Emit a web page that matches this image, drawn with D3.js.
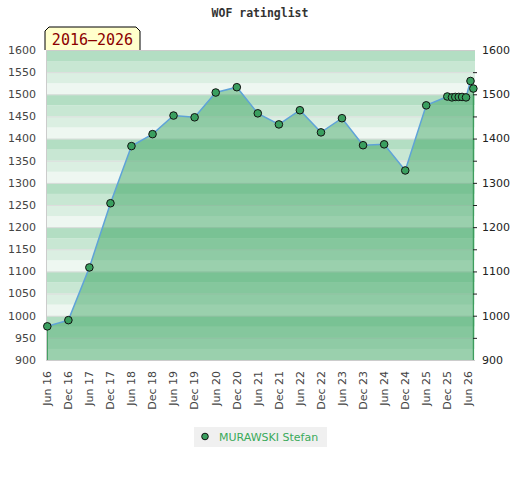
<!DOCTYPE html>
<html lang="en">
<head>
    <meta charset="UTF-8">
    <script src="https://d3js.org/d3.v7.min.js"></script>
    <title>WOF ratinglist</title>
    <style>
        html, body {
            margin: 0px;
            padding: 0px;
            background-color: #ffffff;
        }
        svg {
            font-family: "DejaVu Sans", sans-serif;
        }
        .mono {
            font-family: "DejaVu Sans Mono", monospace;
        }
    </style>
</head>
<body>
    <div id="chart"></div>

    <script>
        // rating list dates and values
        let dates = [
            '2016-06-01', '2016-12-01', '2017-06-01', '2017-12-01', '2018-06-01', '2018-12-01',
            '2019-06-01', '2019-12-01', '2020-06-01', '2020-12-01', '2021-06-01', '2021-12-01',
            '2022-06-01', '2022-12-01', '2023-06-01', '2023-12-01', '2024-06-01', '2024-12-01',
            '2025-06-01', '2025-12-01', '2026-01-10', '2026-02-08', '2026-03-10', '2026-04-08',
            '2026-05-12', '2026-06-20', '2026-07-15'
        ];
        let ratings = [
            976, 990, 1109, 1254, 1383, 1410,
            1452, 1448, 1504, 1516, 1457, 1432,
            1464, 1414, 1446, 1385, 1387, 1328,
            1475, 1495, 1493, 1494, 1494, 1494,
            1493, 1530, 1513
        ];
        let leftTicks = d3.range(900, 1601, 50);
        let rightTicks = d3.range(900, 1601, 100);
        let player = 'MURAWSKI Stefan';
        let period = '2016–2026';

        let width = 520, height = 480;
        let plot = { left: 46, right: 475, top: 50, bottom: 360 };

        let svg = d3.select('#chart').append('svg').attr('width', width).attr('height', height);

        let parse = d3.timeParse('%Y-%m-%d');
        let data = dates.map((d, i) => ({ date: parse(d), value: ratings[i] }));

        let x = d3.scaleTime()
            .domain([new Date(2016, 5, 1), new Date(2026, 5, 1)])
            .range([47.3, 468.3]);
        let y = d3.scaleLinear().domain([900, 1600]).range([plot.bottom, plot.top]);

        // striped background, 4 shades per hundred
        let shades = ['#b3dec3', '#c8e7d3', '#dbefe2', '#eef7f1'];
        let bands = d3.range(900, 1600, 25);
        svg.append('g').selectAll('rect')
            .data(bands)
            .join('rect')
            .attr('x', plot.left)
            .attr('width', plot.right - plot.left)
            .attr('y', (v) => y(v + 25))
            .attr('height', (v) => y(v) - y(v + 25))
            .attr('fill', (v) => shades[((1600 - (v + 25)) / 25) % 4]);

        svg.append('g').selectAll('line')
            .data(leftTicks)
            .join('line')
            .attr('x1', plot.left).attr('x2', plot.right)
            .attr('y1', (v) => y(v) + 0.5).attr('y2', (v) => y(v) + 0.5)
            .attr('stroke', '#dddddd');

        // area under the rating line
        let area = d3.area()
            .x((d) => x(d.date))
            .y0(y(900))
            .y1((d) => y(d.value));
        svg.append('path')
            .datum(data)
            .attr('d', area)
            .attr('fill', 'rgb(50,160,90)')
            .attr('fill-opacity', 0.45);

        let first = data[0], last = data[data.length - 1];
        [first, last].forEach((d) => {
            svg.append('line')
                .attr('x1', x(d.date)).attr('x2', x(d.date))
                .attr('y1', y(d.value)).attr('y2', y(900))
                .attr('stroke', '#3a9a5a')
                .attr('stroke-width', 1.2);
        });

        // plot border
        svg.append('path')
            .attr('d', `M${plot.right},${plot.top + 0.5}H${plot.left + 0.5}V${plot.bottom + 0.5}H${plot.right}`)
            .attr('fill', 'none')
            .attr('stroke', '#cccccc');

        let line = d3.line()
            .x((d) => x(d.date))
            .y((d) => y(d.value));
        svg.append('path')
            .datum(data)
            .attr('d', line)
            .attr('fill', 'none')
            .attr('stroke', '#5fa3d8')
            .attr('stroke-width', 1.5);

        svg.append('g').selectAll('circle')
            .data(data)
            .join('circle')
            .attr('cx', (d) => x(d.date))
            .attr('cy', (d) => y(d.value))
            .attr('r', 3.8)
            .attr('fill', '#3a9f5f')
            .attr('stroke', '#111')
            .attr('stroke-width', 1);

        // left axis
        svg.append('g').selectAll('text')
            .data(leftTicks)
            .join('text')
            .attr('x', 36)
            .attr('y', (v) => y(v))
            .attr('dy', '0.35em')
            .attr('text-anchor', 'end')
            .attr('font-size', 11)
            .attr('fill', '#444')
            .text((v) => v);

        // right axis
        svg.append('g').selectAll('line')
            .data(leftTicks.filter((v) => v > 900 && v < 1600))
            .join('line')
            .attr('x1', plot.right - 2).attr('x2', plot.right + 2)
            .attr('y1', (v) => y(v) + 0.5).attr('y2', (v) => y(v) + 0.5)
            .attr('stroke', '#222');
        svg.append('g').selectAll('text')
            .data(rightTicks)
            .join('text')
            .attr('x', 482)
            .attr('y', (v) => y(v))
            .attr('dy', '0.35em')
            .attr('font-size', 11)
            .attr('fill', '#222')
            .text((v) => v);

        // x axis labels, every half year from June 2016
        let xTicks = d3.timeMonth.range(new Date(2016, 5, 1), new Date(2026, 6, 1), 6);
        let fmt = d3.timeFormat('%b %y');
        svg.append('g').selectAll('text')
            .data(xTicks)
            .join('text')
            .attr('transform', (d) => `translate(${x(d)},371) rotate(-90)`)
            .attr('dy', '0.35em')
            .attr('text-anchor', 'end')
            .attr('font-size', 11)
            .attr('fill', '#444')
            .text((d) => fmt(d));

        // title
        svg.append('text')
            .attr('class', 'mono')
            .attr('x', 260).attr('y', 17)
            .attr('text-anchor', 'middle')
            .attr('font-weight', 'bold')
            .attr('font-size', 11.5)
            .attr('fill', '#333')
            .text('WOF ratinglist');

        // period tag
        svg.append('path')
            .attr('d', 'M45,50V31L49,27H136L140,31V50')
            .attr('fill', '#ffffcc')
            .attr('stroke', '#000');
        svg.append('text')
            .attr('class', 'mono')
            .attr('x', 92.5).attr('y', 45)
            .attr('text-anchor', 'middle')
            .attr('font-size', 15)
            .attr('fill', '#8b0000')
            .text(period);

        // legend
        let legend = svg.append('g');
        legend.append('rect')
            .attr('x', 194).attr('y', 427)
            .attr('width', 133).attr('height', 20)
            .attr('fill', '#f0f0f0');
        legend.append('circle')
            .attr('cx', 205).attr('cy', 436.5)
            .attr('r', 3.3)
            .attr('fill', '#3a9f5f')
            .attr('stroke', '#111');
        legend.append('text')
            .attr('x', 219).attr('y', 441)
            .attr('font-size', 11)
            .attr('fill', '#3aaa5a')
            .text(player);
    </script>
</body>
</html>
